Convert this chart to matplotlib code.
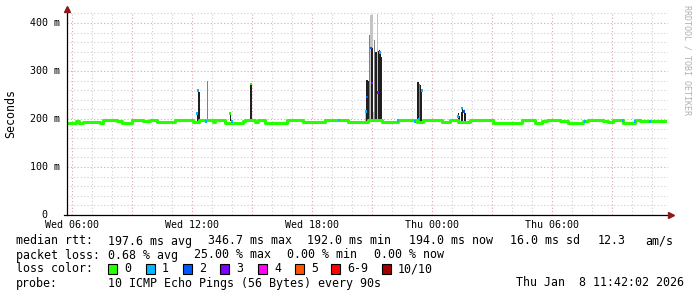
import matplotlib.pyplot as plt
from matplotlib.patches import Rectangle

# time axis: hours since Wed 00:00, rtt in ms
med_t = [5.77, 6.22, 6.37, 6.57, 7.42, 7.57, 8.27, 8.52, 9.02, 9.57,
         9.92, 10.27, 11.17, 12.07, 12.37, 13.07, 13.17, 13.67, 14.57, 14.67,
         15.17, 15.32, 15.67, 16.77, 17.57, 18.02, 18.67, 19.82, 20.52, 20.82,
         21.52, 22.32, 23.27, 23.57, 24.52, 24.92, 25.32, 25.92, 27.07, 28.52,
         29.17, 29.52, 29.77, 30.42, 30.82, 31.57, 31.82, 32.57, 32.82, 33.07,
         33.57, 34.17, 34.42, 35.02, 35.67]
med_v = [192, 195, 192, 194, 192, 197, 195, 192.5, 197, 195,
         197, 193, 197.5, 193, 197, 193, 197, 192.5, 195, 197.5,
         193, 197, 192.5, 197, 194, 193, 197.5, 194.5, 193, 197,
         193, 197.5, 193, 197.5, 193, 197, 194, 198, 192.5, 197.5,
         192.5, 195, 197.5, 195, 192.5, 195, 197.5, 195, 193, 197.5,
         192.5, 197.5, 195, 195, 195]

# smoke (ping spread) per step: time, low, high, shade (0 dark, 1 mid, 2 light)
smoke_t = [12.27, 12.32, 12.37, 12.77, 13.92, 14.92, 14.97,
           20.67, 20.72, 20.77, 20.82, 20.87, 20.92, 20.97, 21.02, 20.97, 21.02,
           21.07, 21.12, 21.17, 21.22, 21.27, 21.32, 21.37, 21.42, 21.47,
           23.27, 23.32, 23.37, 23.42, 23.47,
           25.32, 25.37, 25.47, 25.52, 25.62, 25.67]
smoke_lo = [195] * len(smoke_t)
smoke_hi = [212, 260, 256, 279, 210, 273, 275,
            215, 281, 281, 279, 375, 417, 417, 417, 348, 348,
            215, 365, 340, 340, 419, 342, 344, 338, 330,
            277, 277, 273, 271, 262,
            212, 206, 215, 223, 219, 212]
smoke_shade = [0, 0, 0, 1, 0, 0, 0,
               2, 0, 0, 0, 1, 2, 2, 2, 0, 0,
               2, 1, 0, 0, 2, 0, 0, 0, 0,
               0, 0, 1, 0, 0,
               0, 0, 0, 0, 0, 0]

# median points coloured by packet loss count
loss_t = [12.27, 12.32, 12.72, 13.92, 14.02, 14.97, 19.37, 20.72, 20.77, 20.97,
          21.02, 21.32, 21.42, 22.32, 23.17, 23.37, 23.52, 25.32, 25.52, 25.62,
          31.67, 33.57, 34.17, 34.92]
loss_v = [212, 260, 194, 212, 194, 273, 198, 215, 246, 348,
          275, 256, 338, 197, 194, 200, 260, 205, 223, 215,
          195, 197, 194, 195]
loss_n = [1, 1, 1, 0, 1, 0, 1, 1, 2, 2,
          3, 3, 1, 1, 1, 1, 1, 1, 1, 2,
          1, 1, 1, 1]

loss_labels = ["0", "1", "2", "3", "4", "5", "6-9", "10/10"]
loss_colors = ["#26ff00", "#00b8ff", "#0059ff", "#7e00ff", "#ff00f1",
               "#ff5500", "#ff0000", "#a10000"]
shade_colors = {0: "#202020", 1: "#808080", 2: "#c4c4c4"}

x_ticks = [6, 12, 18, 24, 30]
x_labels = ["Wed 06:00", "Wed 12:00", "Wed 18:00", "Thu 00:00", "Thu 06:00"]
y_ticks = [0, 100, 200, 300, 400]
y_labels = ["  0", "100 m", "200 m", "300 m", "400 m"]

W, H = 697, 297
mono = "DejaVu Sans Mono"
fig = plt.figure(figsize=(W / 100, H / 100), dpi=100)
ax = fig.add_axes([67 / W, 82 / H, 601 / W, 203 / H])
ax.set_xlim(5.765, 35.815)
ax.set_ylim(0, 423)

# grid
ax.set_xticks(range(6, 36, 3))
ax.set_xticks(range(6, 36), minor=True)
ax.set_yticks(range(0, 421, 100))
ax.set_yticks(range(0, 421, 20), minor=True)
ax.grid(which="minor", color="#cfcfcf", linestyle=(0, (1, 2)), linewidth=0.8)
ax.grid(which="major", color="#dba7a7", linestyle=(0, (1, 2)), linewidth=0.8)
ax.tick_params(which="both", length=0, labelbottom=False, labelleft=False)
for s in ax.spines.values():
    s.set_visible(False)

for level in (2, 1, 0):
    for t, lo, hi, sh in zip(smoke_t, smoke_lo, smoke_hi, smoke_shade):
        if sh == level:
            ax.bar(t, hi - lo, bottom=lo, width=0.06, color=shade_colors[sh],
                   linewidth=0, zorder=3)

ax.step(med_t, med_v, where="post", color=loss_colors[0], linewidth=2.2, zorder=4)
for t, v, n in zip(loss_t, loss_v, loss_n):
    ax.bar(t, 6, bottom=v - 3, width=0.07, color=loss_colors[n], linewidth=0, zorder=5)

ytr = ax.get_yaxis_transform()
for v, lab in zip(y_ticks, y_labels):
    ax.text(-37 / 601, v, lab, transform=ytr, ha="left", va="center",
            fontsize=7.2, family=mono)
xtr = ax.get_xaxis_transform()
for t, lab in zip(x_ticks, x_labels):
    ax.text(t, -10 / 203, lab, transform=xtr, ha="center", va="center",
            fontsize=7.2, family=mono)

# overlay in pixel coordinates for axes lines, arrows and legend
ov = fig.add_axes([0, 0, 1, 1])
ov.set_xlim(0, W)
ov.set_ylim(H, 0)
ov.axis("off")
ov.patch.set_visible(False)
ov.plot([67, 67], [215, 10], color="black", linewidth=0.9)
ov.plot([64, 670], [215, 215], color="black", linewidth=0.9)
ov.plot(67, 9, marker="^", markersize=4, color="#8b1a1a")
ov.plot(671, 215, marker=">", markersize=4, color="#8b1a1a")

ov.text(11, 113, "Seconds", rotation=90, ha="center", va="center", fontsize=8.4, family=mono)
ov.text(687, 5, "RRDTOOL / TOBI OETIKER", rotation=270, ha="center", va="top",
        fontsize=6, family=mono, color="#b0b0b0")

rows = [
    (241, [(16, "median rtt:"), (108, "197.6 ms avg"), (208, "346.7 ms max"),
           (307, "192.0 ms min"), (409, "194.0 ms now"), (510, "16.0 ms sd"),
           (598, "12.3"), (645, "am/s")]),
    (255, [(16, "packet loss:"), (108, "0.68 % avg"), (194, "25.00 % max"),
           (287, "0.00 % min"), (374, "0.00 % now")]),
    (269, [(16, "loss color:")]),
    (283, [(16, "probe:"), (108, "10 ICMP Echo Pings (56 Bytes) every 90s"),
           (516, "Thu Jan  8 11:42:02 2026")]),
]
for y, items in rows:
    for x, s in items:
        ov.text(x, y, s, ha="left", va="center", fontsize=8.4, family=mono)

box_x = [108, 146, 183, 220, 258, 295, 331, 382]
for bx, lab, c in zip(box_x, loss_labels, loss_colors):
    ov.add_patch(Rectangle((bx, 264), 9, 10, facecolor=c, edgecolor="black", linewidth=0.8))
    ov.text(bx + 16, 269, lab, ha="left", va="center", fontsize=8.4, family=mono)

fig.savefig("out.png", dpi=100)
